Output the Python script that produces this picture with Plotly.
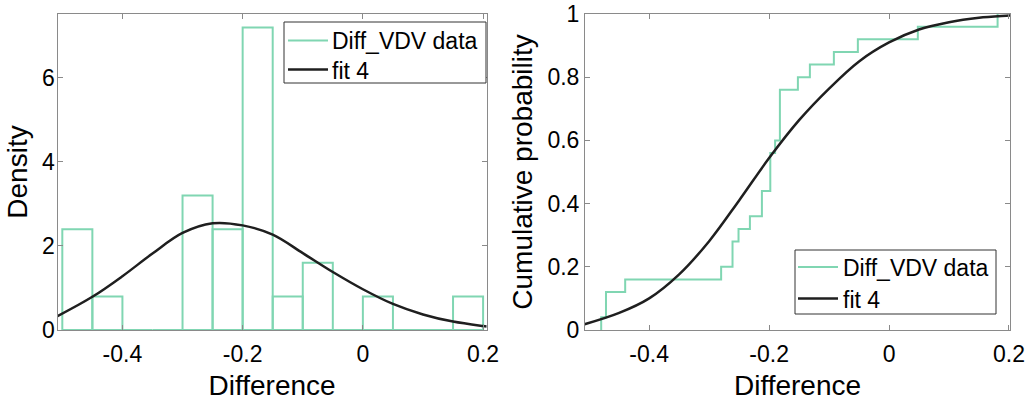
import numpy as np
import plotly.graph_objects as go

# Sorted sample of the difference values (n = 25)
diff_vdv = [-0.480, -0.472, -0.472, -0.440, -0.280, -0.261, -0.261, -0.251,
            -0.232, -0.212, -0.212, -0.198, -0.198, -0.198, -0.190, -0.182,
            -0.182, -0.182, -0.182, -0.152, -0.132, -0.092, -0.052, 0.048,
            0.181]

# Histogram bin edges
bin_edges = [-0.50, -0.45, -0.40, -0.35, -0.30, -0.25, -0.20, -0.15,
             -0.10, -0.05, 0.00, 0.05, 0.10, 0.15, 0.20]

# Fitted distribution ("fit 4"): density and cumulative probability
fit_x = [-0.508, -0.45, -0.40, -0.35, -0.30, -0.25, -0.20, -0.15,
         -0.10, -0.05, 0.00, 0.05, 0.10, 0.15, 0.20, 0.206]
fit_pdf = [0.33, 0.79, 1.28, 1.82, 2.31, 2.54, 2.49, 2.27,
           1.83, 1.38, 0.97, 0.62, 0.37, 0.20, 0.095, 0.085]
fit_cdf = [0.018, 0.054, 0.100, 0.176, 0.281, 0.410, 0.544, 0.664,
           0.764, 0.850, 0.910, 0.951, 0.974, 0.988, 0.995, 0.996]

x_ticks = [-0.4, -0.2, 0, 0.2]
x_tick_text = ["-0.4", "-0.2", "0", "0.2"]
pdf_ticks = [0, 2, 4, 6]
cdf_ticks = [0, 0.2, 0.4, 0.6, 0.8, 1]
cdf_tick_text = ["0", "0.2", "0.4", "0.6", "0.8", "1"]
legend_labels = ["Diff_VDV data", "fit 4"]

GREEN = "rgb(128,214,178)"
DARK = "#1f1f1f"
AXIS = "#8a8a8a"
FONT = "Liberation Sans, Arial, sans-serif"
FS = 23
W, H = 1026, 401


def px(x):
    return x / W


def py(y):
    return 1 - y / H


# Density histogram from the sample
density, _ = np.histogram(diff_vdv, bins=bin_edges, density=True)
hx, hy = [], []
for a, b, h in zip(bin_edges[:-1], bin_edges[1:], density):
    hx += [a, a, b, b, a, None]
    hy += [0, h, h, 0, 0, None]

# Empirical CDF as a staircase
vals, counts = np.unique(diff_vdv, return_counts=True)
ecdf = np.cumsum(counts) / len(diff_vdv)
ex = [vals[0]] + list(vals)
ey = [0.0] + list(ecdf)

fig = go.Figure()
fig.add_trace(go.Scatter(x=hx, y=hy, mode="lines", name=legend_labels[0],
                         line=dict(color=GREEN, width=2), showlegend=False,
                         xaxis="x", yaxis="y"))
fig.add_trace(go.Scatter(x=fit_x, y=fit_pdf, mode="lines", name=legend_labels[1],
                         line=dict(color=DARK, width=2.5, shape="spline"),
                         showlegend=False, xaxis="x", yaxis="y"))
fig.add_trace(go.Scatter(x=ex, y=ey, mode="lines", name=legend_labels[0],
                         line=dict(color=GREEN, width=2, shape="hv"),
                         showlegend=False, xaxis="x2", yaxis="y2"))
fig.add_trace(go.Scatter(x=fit_x, y=fit_cdf, mode="lines", name=legend_labels[1],
                         line=dict(color=DARK, width=2.5, shape="spline"),
                         showlegend=False, xaxis="x2", yaxis="y2"))

# Boxed legends, one per panel: (box left, top, right, bottom, sample x0, x1,
# text x, row centres)
legend_boxes = [
    (284, 22, 486, 83, 288, 328, 330, (40.5, 69.5)),
    (795, 250, 996, 314, 798, 838, 841, (267, 298.5)),
]
shapes, annotations = [], []
for (bl, bt, br, bb, s0, s1, tx, rows) in legend_boxes:
    shapes.append(dict(type="rect", xref="paper", yref="paper",
                       x0=px(bl), x1=px(br), y0=py(bb), y1=py(bt),
                       line=dict(color="#333333", width=1), fillcolor="white",
                       layer="above"))
    for label, colour, width, ry in zip(legend_labels, [GREEN, DARK],
                                        [2, 2.5], rows):
        shapes.append(dict(type="line", xref="paper", yref="paper",
                           x0=px(s0), x1=px(s1), y0=py(ry), y1=py(ry),
                           line=dict(color=colour, width=width), layer="above"))
        annotations.append(dict(text=label, xref="paper", yref="paper",
                                x=px(tx), y=py(ry + 1), xanchor="left",
                                yanchor="middle", showarrow=False,
                                font=dict(family=FONT, size=FS, color="black")))

ydom = [py(330), py(14)]
common = dict(showline=True, linecolor=AXIS, linewidth=1, mirror="ticks",
              ticks="inside", ticklen=5, tickcolor=AXIS, tickwidth=1,
              showgrid=False, zeroline=False, automargin=False,
              tickfont=dict(family=FONT, size=FS, color="black"))

fig.update_layout(
    width=W, height=H,
    margin=dict(l=0, r=0, t=0, b=0),
    paper_bgcolor="white", plot_bgcolor="white",
    font=dict(family=FONT, size=FS, color="black"),
    showlegend=False,
    xaxis=dict(domain=[px(57.5), px(486.7)], range=[-0.508, 0.206],
               tickvals=x_ticks, ticktext=x_tick_text, anchor="y",
               ticklabelstandoff=3,
               title=dict(text="Difference", standoff=9), **common),
    yaxis=dict(domain=ydom, range=[0, 7.52], tickvals=pdf_ticks,
               anchor="x", ticklabelstandoff=-3,
               title=dict(text="Density", standoff=6), **common),
    xaxis2=dict(domain=[px(585), px(1010)], range=[-0.507, 0.2017],
                tickvals=x_ticks, ticktext=x_tick_text, anchor="y2",
                ticklabelstandoff=3,
                title=dict(text="Difference", standoff=9), **common),
    yaxis2=dict(domain=ydom, range=[0, 1], tickvals=cdf_ticks,
                ticktext=cdf_tick_text, anchor="x2",
                title=dict(text="Cumulative probability", standoff=6), **common),
    shapes=shapes,
    annotations=annotations,
)

fig.write_html("out.html")
